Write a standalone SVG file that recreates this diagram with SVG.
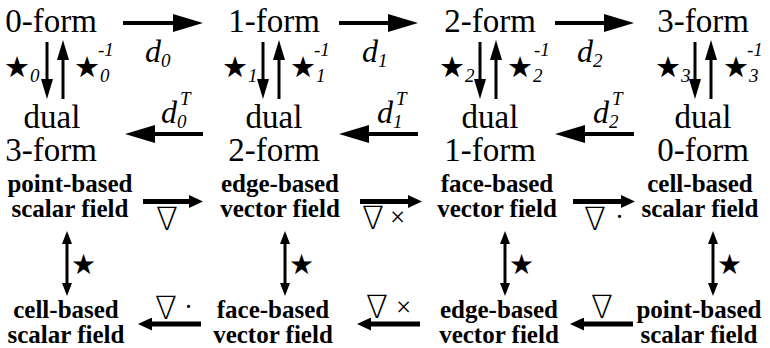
<svg xmlns="http://www.w3.org/2000/svg" width="770" height="348" viewBox="0 0 770 348">
<style>
.f{font-family:"Liberation Serif","Times New Roman",serif;font-size:33px;text-anchor:middle;fill:#000}
.b{font-family:"Liberation Serif","Times New Roman",serif;font-size:25px;font-weight:bold;text-anchor:middle;fill:#000}
.d{font-family:"Liberation Serif","Times New Roman",serif;font-size:32px;font-style:italic;fill:#000}
.s{font-family:"Liberation Serif","Times New Roman",serif;font-size:19px;font-style:italic}
.st{font-family:"DejaVu Sans",sans-serif;font-size:29px;fill:#000;font-style:normal}
.sb{font-family:"DejaVu Sans",sans-serif;font-size:28px;fill:#000}
.op{font-family:"Liberation Serif","DejaVu Serif",serif;font-size:27px;font-weight:normal}
.nb{font-family:"DejaVu Sans",sans-serif;font-weight:200;font-size:32px;fill:#000}
.a1{stroke:#000;stroke-width:4;fill:none}
.a2{stroke:#000;stroke-width:3;fill:none}
.a3{stroke:#000;stroke-width:5;fill:none}
</style>
<defs>
<marker id="hT" markerUnits="userSpaceOnUse" markerWidth="30" markerHeight="18" viewBox="0 0 30 18" refX="1" refY="9" orient="auto"><path d="M0,0L30,9L0,18z" fill="#000"/></marker>
<marker id="vT" markerUnits="userSpaceOnUse" markerWidth="20" markerHeight="12" viewBox="0 0 20 12" refX="1" refY="6" orient="auto"><path d="M0,0L20,6L0,12z" fill="#000"/></marker>
<marker id="hB" markerUnits="userSpaceOnUse" markerWidth="14" markerHeight="13" viewBox="0 0 14 13" refX="1" refY="6.5" orient="auto"><path d="M0,0L14,6.5L0,13z" fill="#000"/></marker>
<marker id="vB" markerUnits="userSpaceOnUse" markerWidth="13" markerHeight="10" viewBox="0 0 13 10" refX="1" refY="5" orient="auto-start-reverse"><path d="M0,0L13,5L0,10z" fill="#000"/></marker>
</defs>

<g id="form0"><text class="f" x="51" y="32">0-form</text></g>
<g id="form1"><text class="f" x="274" y="32">1-form</text></g>
<g id="form2"><text class="f" x="490" y="32">2-form</text></g>
<g id="form3"><text class="f" x="703" y="32">3-form</text></g>
<g id="dual3"><text class="f" x="52" y="128">dual</text><text class="f" x="51" y="161">3-form</text></g>
<g id="dual2"><text class="f" x="274" y="128">dual</text><text class="f" x="274" y="161">2-form</text></g>
<g id="dual1"><text class="f" x="490" y="128">dual</text><text class="f" x="490" y="161">1-form</text></g>
<g id="dual0"><text class="f" x="703" y="128">dual</text><text class="f" x="703" y="161">0-form</text></g>

<g id="pointTop"><text class="b" x="70" y="192">point-based</text><text class="b" x="70" y="217">scalar field</text></g>
<g id="edgeTop"><text class="b" x="280" y="192">edge-based</text><text class="b" x="280" y="217">vector field</text></g>
<g id="faceTop"><text class="b" x="497" y="192">face-based</text><text class="b" x="497" y="217">vector field</text></g>
<g id="cellTop"><text class="b" x="700" y="192">cell-based</text><text class="b" x="700" y="217">scalar field</text></g>
<g id="cellBot"><text class="b" x="66" y="318">cell-based</text><text class="b" x="66" y="343">scalar field</text></g>
<g id="faceBot"><text class="b" x="273" y="318">face-based</text><text class="b" x="273" y="343">vector field</text></g>
<g id="edgeBot"><text class="b" x="499" y="318">edge-based</text><text class="b" x="499" y="343">vector field</text></g>
<g id="pointBot"><text class="b" x="699" y="318">point-based</text><text class="b" x="699" y="343">scalar field</text></g>

<g id="connectors">
<path class="a1" d="M123,23H174" marker-end="url(#hT)"/>
<path class="a1" d="M339,23H389" marker-end="url(#hT)"/>
<path class="a1" d="M555,23H605" marker-end="url(#hT)"/>
<path class="a1" d="M203,134H154" marker-end="url(#hT)"/>
<path class="a1" d="M418,134H368" marker-end="url(#hT)"/>
<path class="a1" d="M634,134H584" marker-end="url(#hT)"/>

<path class="a2" d="M47,42V80" marker-end="url(#vT)"/>
<path class="a2" d="M63,99V59" marker-end="url(#vT)"/>
<path class="a2" d="M263,42V80" marker-end="url(#vT)"/>
<path class="a2" d="M279,99V59" marker-end="url(#vT)"/>
<path class="a2" d="M480,42V80" marker-end="url(#vT)"/>
<path class="a2" d="M496,99V59" marker-end="url(#vT)"/>
<path class="a2" d="M695,42V80" marker-end="url(#vT)"/>
<path class="a2" d="M711,99V59" marker-end="url(#vT)"/>

<path class="a3" d="M143,201.5H190" marker-end="url(#hB)"/>
<path class="a3" d="M360,201.5H409" marker-end="url(#hB)"/>
<path class="a3" d="M573,201.5H622" marker-end="url(#hB)"/>
<path class="a3" d="M201,324H151" marker-end="url(#hB)"/>
<path class="a3" d="M420,324H370" marker-end="url(#hB)"/>
<path class="a3" d="M633,324H583" marker-end="url(#hB)"/>

<path class="a2" d="M67,243V284" marker-start="url(#vB)" marker-end="url(#vB)"/>
<path class="a2" d="M285,243V284" marker-start="url(#vB)" marker-end="url(#vB)"/>
<path class="a2" d="M505,243V284" marker-start="url(#vB)" marker-end="url(#vB)"/>
<path class="a2" d="M713,243V284" marker-start="url(#vB)" marker-end="url(#vB)"/>
</g>

<g id="labels">
<text class="d" x="145" y="62">d<tspan class="s" dy="5">0</tspan></text>
<text class="d" x="362" y="62">d<tspan class="s" dy="5">1</tspan></text>
<text class="d" x="577" y="62">d<tspan class="s" dy="5">2</tspan></text>
<text class="d" x="161" y="123">d<tspan class="s" dy="5">0</tspan><tspan class="s" x="180" y="105">T</tspan></text>
<text class="d" x="377" y="123">d<tspan class="s" dy="5">1</tspan><tspan class="s" x="396" y="105">T</tspan></text>
<text class="d" x="593" y="123">d<tspan class="s" dy="5">2</tspan><tspan class="s" x="612" y="105">T</tspan></text>

<text class="st" x="4" y="77">★<tspan class="s" dy="5">0</tspan></text>
<text class="st" x="74" y="77">★<tspan class="s" dy="5">0</tspan><tspan class="s" x="98" y="56">-1</tspan></text>
<text class="st" x="222" y="77">★<tspan class="s" dy="5">1</tspan></text>
<text class="st" x="290" y="77">★<tspan class="s" dy="5">1</tspan><tspan class="s" x="314" y="56">-1</tspan></text>
<text class="st" x="439" y="77">★<tspan class="s" dy="5">2</tspan></text>
<text class="st" x="507" y="77">★<tspan class="s" dy="5">2</tspan><tspan class="s" x="534" y="56">-1</tspan></text>
<text class="st" x="655" y="77">★<tspan class="s" dy="5">3</tspan></text>
<text class="st" x="723" y="77">★<tspan class="s" dy="5">3</tspan><tspan class="s" x="747" y="56">-1</tspan></text>

<text class="nb" x="156" y="230">∇</text>
<text class="nb" x="362" y="229">∇<tspan class="op" x="390" y="226">×</tspan></text>
<text class="nb" x="584" y="230">∇<tspan class="op" x="615" y="226">·</tspan></text>
<text class="nb" x="155" y="319">∇<tspan class="op" x="184" y="316">·</tspan></text>
<text class="nb" x="366" y="318">∇<tspan class="op" x="396" y="316">×</tspan></text>
<text class="nb" x="591" y="318">∇</text>

<text class="sb" x="71" y="274">★</text>
<text class="sb" x="289" y="274">★</text>
<text class="sb" x="509" y="274">★</text>
<text class="sb" x="717" y="274">★</text>
</g>
</svg>
